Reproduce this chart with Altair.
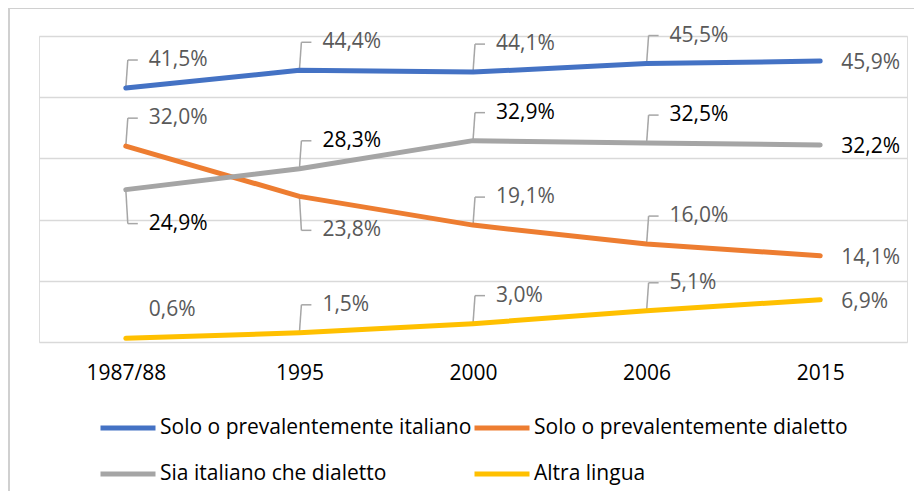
import altair as alt
import pandas as pd

anni = ["1987/88", "1995", "2000", "2006", "2015"]
serie = [
    "Solo o prevalentemente italiano",
    "Solo o prevalentemente dialetto",
    "Sia italiano che dialetto",
    "Altra lingua",
]
italiano = [41.5, 44.4, 44.1, 45.5, 45.9]
dialetto = [32.0, 23.8, 19.1, 16.0, 14.1]
entrambi = [24.9, 28.3, 32.9, 32.5, 32.2]
altra = [0.6, 1.5, 3.0, 5.1, 6.9]

# label placement (Excel-style data labels)
pos_italiano = ["alto", "alto", "alto", "alto", "destra"]
pos_dialetto = ["alto", "basso", "alto", "alto", "destra"]
pos_entrambi = ["basso", "alto", "alto", "alto", "destra"]
pos_altra = ["libero", "alto", "alto", "alto", "destra"]

colori = ["#4472C4", "#ED7D31", "#A5A5A5", "#FFC000"]

rows = []
for s, vals, pos in zip(serie, [italiano, dialetto, entrambi, altra],
                        [pos_italiano, pos_dialetto, pos_entrambi, pos_altra]):
    for a, v, p in zip(anni, vals, pos):
        rows.append({"anno": a, "serie": s, "valore": v, "pos": p})
df = pd.DataFrame(rows)

FONT = "Open Sans"
UP = -28
DOWN = 34

base = alt.Chart(df).encode(
    x=alt.X("anno:N", sort=anni, scale=alt.Scale(type="point", padding=0.5),
            axis=alt.Axis(title=None, ticks=False, domain=False, grid=False,
                          labelFontSize=21, labelFont=FONT, labelColor="black",
                          labelPadding=20, labelAngle=0)),
    y=alt.Y("valore:Q", scale=alt.Scale(domain=[0, 50]),
            axis=alt.Axis(title=None, labels=False, ticks=False, domain=False,
                          values=[0, 10, 20, 30, 40, 50], gridColor="#D9D9D9",
                          gridWidth=1.3)),
)

lines = base.mark_line(strokeWidth=5, strokeCap="round", strokeJoin="round").encode(
    color=alt.Color("serie:N", sort=serie,
                    scale=alt.Scale(domain=serie, range=colori),
                    legend=alt.Legend(title=None, orient="none", legendX=59, legendY=362,
                                      direction="horizontal", columns=2,
                                      symbolType="stroke", symbolSize=3025,
                                      symbolStrokeWidth=5, labelFontSize=21,
                                      labelFont=FONT, labelColor="black",
                                      labelLimit=0, labelOffset=2,
                                      columnPadding=-8, rowPadding=6)),
    order=alt.Order("anno:N"),
)

lead = dict(color="#A6A6A6", strokeWidth=1.5)
leader_up_v = base.transform_filter("datum.pos == 'alto'").mark_rule(
    x2Offset=2, y2Offset=UP, **lead).encode(x2=alt.X2("anno"), y2=alt.Y2("valore"))
leader_up_h = base.transform_filter("datum.pos == 'alto'").mark_rule(
    xOffset=2, x2Offset=12, yOffset=UP, y2Offset=UP, **lead).encode(
    x2=alt.X2("anno"), y2=alt.Y2("valore"))
leader_dn_v = base.transform_filter("datum.pos == 'basso'").mark_rule(
    x2Offset=2, y2Offset=DOWN, **lead).encode(x2=alt.X2("anno"), y2=alt.Y2("valore"))
leader_dn_h = base.transform_filter("datum.pos == 'basso'").mark_rule(
    xOffset=2, x2Offset=12, yOffset=DOWN, y2Offset=DOWN, **lead).encode(
    x2=alt.X2("anno"), y2=alt.Y2("valore"))

txt = base.transform_calculate(
    etichetta="replace(format(datum.valore, '.1f'), '.', ',') + '%'"
).encode(
    text="etichetta:N",
    color=alt.condition("datum.serie == 'Sia italiano che dialetto'",
                        alt.value("#000000"), alt.value("#595959")),
)
txt_style = dict(align="left", baseline="middle", fontSize=21, font=FONT)
lab_up = txt.transform_filter("datum.pos == 'alto' || datum.pos == 'libero'").mark_text(
    dx=23, dy=UP, **txt_style)
lab_dn = txt.transform_filter("datum.pos == 'basso'").mark_text(dx=23, dy=DOWN, **txt_style)
lab_rt = txt.transform_filter("datum.pos == 'destra'").mark_text(dx=21, dy=2, **txt_style)

frame_df = pd.DataFrame({"k": [0]})
frame_top = alt.Chart(frame_df).mark_rule(color="#D0D0D0", strokeWidth=2).encode(
    x=alt.value(-30), x2=alt.value(900), y=alt.value(-28), y2=alt.value(-28))
frame_left = alt.Chart(frame_df).mark_rule(color="#D0D0D0", strokeWidth=2).encode(
    x=alt.value(-30), x2=alt.value(-30), y=alt.value(-28), y2=alt.value(470))

chart = alt.layer(
    frame_top, frame_left,
    leader_up_v, leader_up_h, leader_dn_v, leader_dn_h,
    lines, lab_up, lab_dn, lab_rt,
).properties(
    width=868, height=306,
    padding={"left": 31, "top": 28, "right": 7, "bottom": 149},
    autosize=alt.AutoSizeParams(type="none"),
).configure_view(stroke=None).configure(background="white")

chart.save("out.html", embed_options={"renderer": "svg", "actions": False})
